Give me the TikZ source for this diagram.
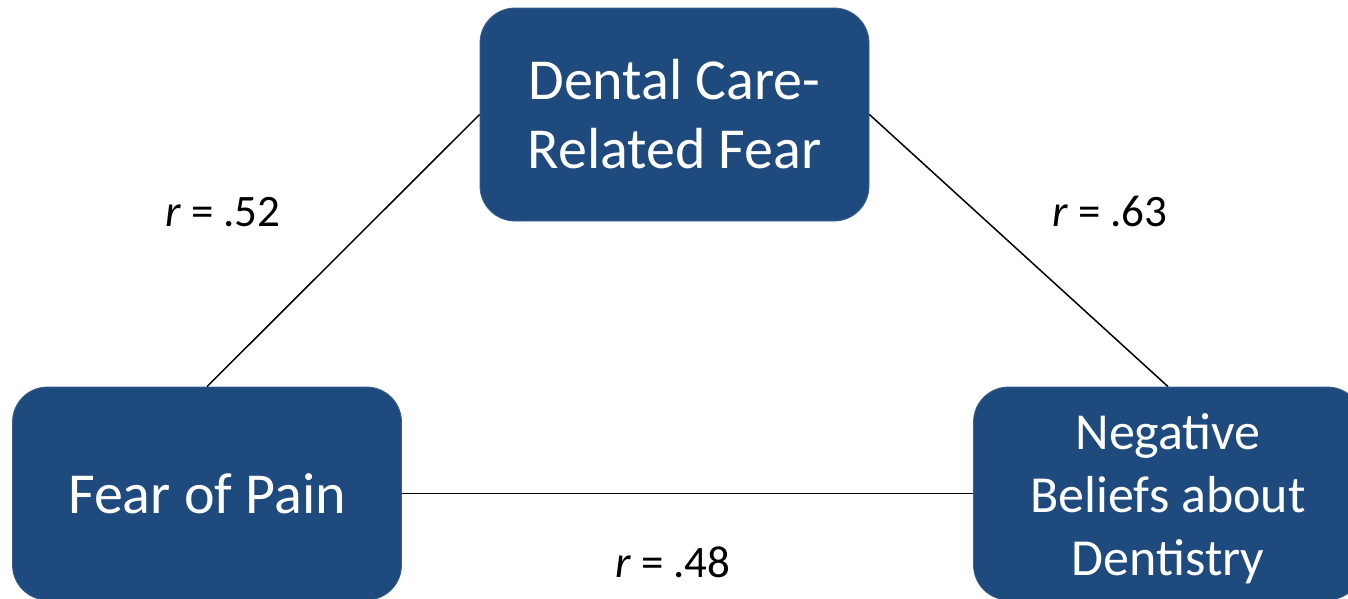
\documentclass[tikz,border=0pt]{standalone}
\usepackage{fontspec}
\setmainfont{Carlito}
\definecolor{boxblue}{HTML}{1F4A7E}
\definecolor{boxedge}{HTML}{3A5F8F}
\tikzset{
  varbox/.style={rectangle, rounded corners=35pt, fill=boxblue, draw=boxedge, line width=0.8pt,
    minimum width=389pt, minimum height=213pt, inner sep=0pt, text=white, align=center},
  link/.style={draw=black, line width=1.5pt},
  rlabel/.style={anchor=base, inner sep=0pt, font=\fontsize{45}{54}\selectfont}
}
\begin{document}
\begin{tikzpicture}[x=1pt,y=-1pt]
\useasboundingbox (0,0) rectangle (1348,598);
\clip (0,0) rectangle (1348,598);
\node[varbox, font=\fontsize{58}{69}\selectfont] (dcf) at (674.5,114.5) {Dental Care-\\Related Fear};
\node[varbox, font=\fontsize{58}{69}\selectfont] (fop) at (207,493.5) {Fear of Pain};
\node[varbox, font=\fontsize{52}{63}\selectfont] (nbd) at (1168,493.5) {\rule{0pt}{47pt}Negative\\Beliefs about\\Dentistry};
\draw[link] (fop.north) -- (dcf.west);
\draw[link] (dcf.east) -- (nbd.north);
\draw[link] (fop.east) -- (nbd.west);
\node[rlabel] (r1) at (223,226) {{\itshape r} = .52};
\node[rlabel] (r2) at (1110,226) {{\itshape r} = .63};
\node[rlabel] (r3) at (673,577) {{\itshape r} = .48};
\end{tikzpicture}
\end{document}
